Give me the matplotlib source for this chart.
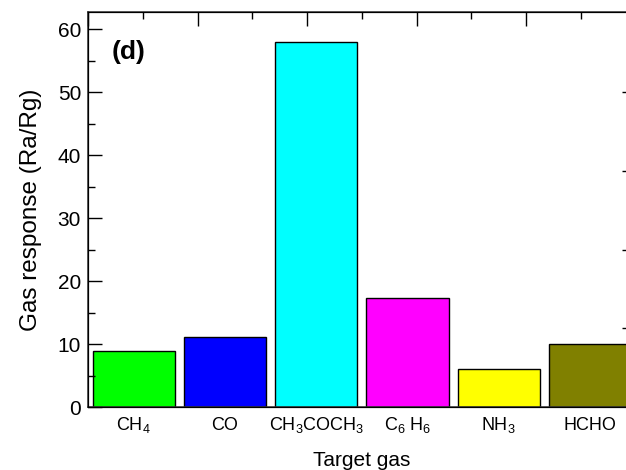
import matplotlib
matplotlib.use("Agg")
import matplotlib.pyplot as plt
from matplotlib.ticker import MultipleLocator

plt.rcParams["font.family"] = ["Liberation Sans", "DejaVu Sans"]
plt.rcParams["mathtext.fontset"] = "custom"
plt.rcParams["mathtext.rm"] = "Liberation Sans"
plt.rcParams["mathtext.it"] = "Liberation Sans"

# Data
gases = [r"CH$_4$", "CO", r"CH$_3$COCH$_3$", r"C$_6$ H$_6$", r"NH$_3$", "HCHO"]
response = [9.0, 11.2, 58.0, 17.3, 6.0, 10.0]
colors = ["#00ff00", "#0000ff", "#00ffff", "#ff00ff", "#ffff00", "#808000"]

fig = plt.figure(figsize=(6.26, 4.70), dpi=100)
# axes run past the right edge of the figure, as in the cropped original
ax = fig.add_axes([0.1406, 0.1334, 0.875, 0.8411])

x = list(range(len(gases)))
ax.bar(x, response, width=0.9, color=colors, edgecolor="black", linewidth=1)

ax.set_xlim(-0.5, 5.5)
ax.set_ylim(0, 62.7)
ax.set_xticks(x)
ax.set_xticklabels(gases, fontsize=13, va="baseline")
ax.tick_params(axis="x", length=0, pad=16)
ax.yaxis.set_major_locator(MultipleLocator(10))
ax.yaxis.set_minor_locator(MultipleLocator(5))
ax.tick_params(axis="y", which="major", direction="in", length=10, width=1,
               labelsize=15, pad=5, right=False)
ax.tick_params(axis="y", which="minor", direction="in", length=5, width=1, right=False)

ax.set_ylabel("Gas response (Ra/Rg)", fontsize=17.5, labelpad=11)
ax.set_xlabel("Target gas", fontsize=15, labelpad=12)

for s in ax.spines.values():
    s.set_color("#333333")
    s.set_linewidth(1.1)

# top axis decoration
top = ax.twiny()
top.set_xlim(ax.get_xlim())
top.xaxis.set_major_locator(MultipleLocator(1.2, offset=-0.5))
top.xaxis.set_minor_locator(MultipleLocator(0.6, offset=-0.5))
top.tick_params(axis="x", which="major", direction="in", length=10, width=1, labeltop=False)
top.tick_params(axis="x", which="minor", direction="in", length=5, width=1)
top.tick_params(axis="y", which="both", left=False, right=False,
                labelleft=False, labelright=False)

# right axis decoration
right = ax.twinx()
right.set_ylim(ax.get_ylim())
right.set_yticks([12.5, 25, 37.5, 50])
right.tick_params(axis="y", direction="in", length=10, width=1, labelright=False)
right.tick_params(axis="x", which="both", bottom=False, top=False,
                  labelbottom=False, labeltop=False)

ax.text(0.044, 0.899, "(d)", transform=ax.transAxes, fontsize=19,
        fontweight="bold", va="center", ha="left")

fig.savefig("out.png", dpi=100)
